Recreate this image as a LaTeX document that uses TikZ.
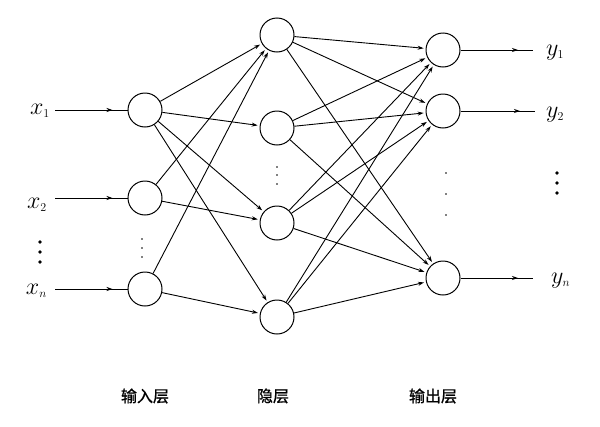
\documentclass[tikz,border=0pt]{standalone}
\usepackage{fix-cm}
\usepackage{fontspec}
\newfontfamily\cjk[FakeBold=1]{Noto Sans CJK SC}
\usetikzlibrary{arrows.meta,decorations.markings}
\begin{document}
\begin{tikzpicture}[x=1pt,y=-1pt,
  neuron/.style={circle,draw,line width=1pt,minimum size=34pt,inner sep=0pt},
  conn/.style={line width=0.9pt,-{Stealth[length=6pt,width=4pt]},shorten >=2pt},
  io/.style={line width=0.9pt,postaction={decorate},
    decoration={markings,mark=at position -15pt with {\arrow{Stealth[length=6pt,width=4pt]}}}},
  lab/.style={font=\fontsize{24}{24}\selectfont,inner sep=0pt},
  layerlab/.style={font=\cjk\fontsize{16}{16}\selectfont,inner sep=0pt},
  sdot/.style={circle,fill,inner sep=0pt,minimum size=1.6pt},
  bdot/.style={circle,fill,inner sep=0pt,minimum size=3.8pt}
]
\useasboundingbox (0,0) rectangle (600,426);

% input layer
\node[neuron] (i1) at (145,110) {};
\node[neuron] (i2) at (145,198) {};
\node[neuron] (i3) at (145,289) {};
% hidden layer
\node[neuron] (h1) at (277,35) {};
\node[neuron] (h2) at (277,128) {};
\node[neuron] (h3) at (277,223) {};
\node[neuron] (h4) at (277,317) {};
% output layer
\node[neuron] (o1) at (443,50) {};
\node[neuron] (o2) at (443,111) {};
\node[neuron] (o3) at (443,278) {};

% input labels
\node[lab,anchor=base east] (x1) at (50,114) {$x_{\scriptscriptstyle 1}$};
\node[lab,anchor=base east] (x2) at (47,208) {$x_{\scriptscriptstyle 2}$};
\node[lab,anchor=base east] (xn) at (47,294) {$x_{\scriptscriptstyle n}$};
\draw[io] ([xshift=5pt]x1.east |- i1) -- (i1);
\draw[io] ([xshift=8pt]x2.east |- i2) -- (i2);
\draw[io] ([xshift=8pt]xn.east |- i3) -- (i3);

% output labels
\node[lab,anchor=base west] (y1) at (546,55) {$y_{\scriptscriptstyle 1}$};
\node[lab,anchor=base west] (y2) at (546,117) {$y_{\scriptscriptstyle 2}$};
\node[lab,anchor=base west] (yn) at (551,283) {$y_{\scriptscriptstyle n}$};
\coordinate (e1) at (533,50);
\coordinate (e2) at (535,111);
\coordinate (e3) at (533,278);
\draw[io] (o1) -- (e1);
\draw[io] (o2) -- (e2);
\draw[io] (o3) -- (e3);

% input -> hidden
\draw[conn] (i1) -- (h1);
\draw[conn] (i1) -- (h2);
\draw[conn] (i1) -- (h3);
\draw[conn] (i1) -- (h4);
\draw[conn] (i2) -- (h1);
\draw[conn] (i2) -- (h3);
\draw[conn] (i3) -- (h1);
\draw[conn] (i3) -- (h4);

% hidden -> output
\foreach \h in {h1,h2,h3,h4}{
  \foreach \o in {o1,o2,o3}{
    \draw[conn] (\h) -- (\o);
  }
}

% dots
\node[bdot] (ld1) at (40,242) {};
\node[bdot] (ld2) at (40,252) {};
\node[bdot] (ld3) at (40,262) {};
\node[sdot] (id1) at (142,239) {};
\node[sdot] (id2) at (142,248) {};
\node[sdot] (id3) at (142,257) {};
\node[sdot] (hd1) at (277,167) {};
\node[sdot] (hd2) at (277,175) {};
\node[sdot] (hd3) at (277,184) {};
\node[sdot] (od1) at (446,173) {};
\node[sdot] (od2) at (446,194) {};
\node[sdot] (od3) at (446,215) {};
\node[bdot] (rd1) at (557,173) {};
\node[bdot] (rd2) at (557,183) {};
\node[bdot] (rd3) at (557,193) {};

% layer labels
\node[layerlab] (l1) at (145,396) {输入层};
\node[layerlab] (l2) at (273,396) {隐层};
\node[layerlab] (l3) at (433,396) {输出层};
\end{tikzpicture}
\end{document}
